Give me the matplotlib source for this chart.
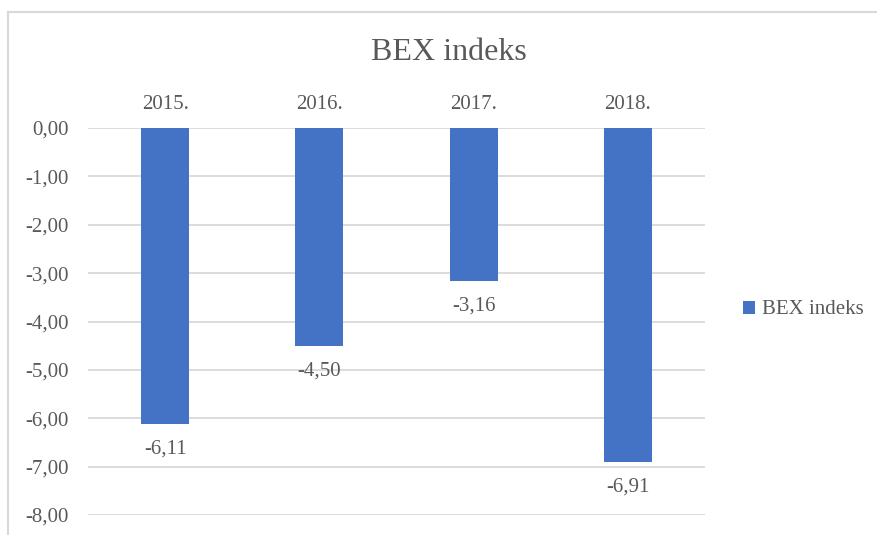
import matplotlib
matplotlib.use('Agg')
import matplotlib.pyplot as plt
from matplotlib.lines import Line2D
import numpy as np

years = ['2015.', '2016.', '2017.', '2018.']
bex = [-6.11, -4.50, -3.16, -6.91]
yticks = [0, -1, -2, -3, -4, -5, -6, -7, -8]

bar_color = '#4472C4'
text_color = '#595959'
grid_color = '#D9D9D9'

plt.rcParams['font.family'] = ['Liberation Serif', 'DejaVu Serif']

fig = plt.figure(figsize=(8.77, 5.35), dpi=100)
ax = fig.add_axes([88/877, 1 - 515/535, (705 - 88)/877, (515 - 128)/535])

x = np.arange(len(years))
bars = ax.bar(x, bex, width=0.31, color=bar_color, label='BEX indeks', zorder=3)

ax.set_xlim(-0.5, len(years) - 0.5)
ax.set_ylim(-8, 0)
ax.set_yticks(yticks)
ax.set_yticklabels([f'{v:.2f}'.replace('.', ',') for v in yticks])
ax.yaxis.grid(True, color=grid_color, linewidth=1.3, zorder=0)
ax.tick_params(axis='y', length=0, pad=14, labelsize=15, labelcolor=text_color)

ax.xaxis.tick_top()
ax.set_xticks(x)
ax.set_xticklabels(years)
ax.tick_params(axis='x', length=0, pad=10, labelsize=15, labelcolor=text_color)

for s in ax.spines.values():
    s.set_visible(False)

# data labels under the bars
for b, v in zip(bars, bex):
    ax.annotate(f'{v:.2f}'.replace('.', ','), (b.get_x() + b.get_width()/2, v),
                xytext=(0, -25), textcoords='offset pixels', ha='center', va='center',
                fontsize=15, color=text_color)

fig.text(449/877, 1 - 53/535, 'BEX indeks', ha='center', va='center', fontsize=23, color=text_color)

leg = fig.legend(loc='center left', bbox_to_anchor=(724/877, 1 - 310/535), frameon=False,
                 fontsize=15, handlelength=0.6, handleheight=0.6, handletextpad=0.3)
for t in leg.get_texts():
    t.set_color(text_color)

# chart area border (cropped on right and bottom)
fig.add_artist(Line2D([8/877, 8/877], [0, 1 - 12/535], transform=fig.transFigure, color=grid_color, linewidth=1.5))
fig.add_artist(Line2D([8/877, 1], [1 - 12/535, 1 - 12/535], transform=fig.transFigure, color=grid_color, linewidth=1.5))

fig.savefig('out.png', dpi=100)
